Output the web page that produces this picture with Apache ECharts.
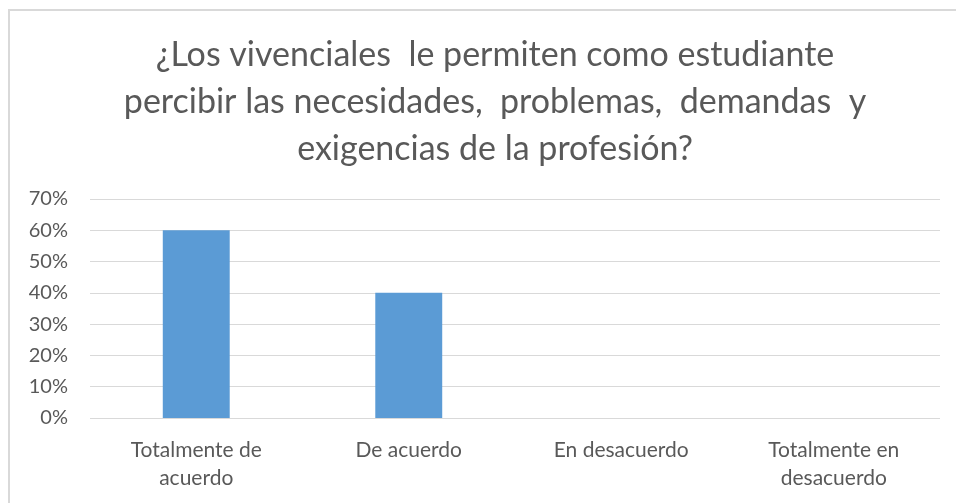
<!DOCTYPE html>
<html>
<head>
<meta charset="utf-8">
<script src="https://cdn.jsdelivr.net/npm/echarts@6/dist/echarts.min.js"></script>
<style>
    html, body { margin: 0; padding: 0; background: #fff; overflow: hidden; }
    #chart { position: absolute; left: 0; top: 0; width: 956px; height: 503px; }
    #frame { position: absolute; left: 8px; top: 9px; right: 0; bottom: 0; border-left: 2px solid #d9d9d9; border-top: 2px solid #d9d9d9; pointer-events: none; }
</style>
</head>
<body>
<div id="chart"></div>
<div id="frame"></div>
<script>
    var categories = ["Totalmente de\nacuerdo", "De acuerdo", "En desacuerdo", "Totalmente en\ndesacuerdo"];
    var values = [0.6, 0.4, 0, 0];
    var titleText = "¿Los vivenciales  le permiten como estudiante\npercibir las necesidades,  problemas,  demandas  y\nexigencias de la profesión?";

    var fontFamily = "Lato, 'Open Sans', sans-serif";
    var chart = echarts.init(document.getElementById("chart"));

    var option = {
        animation: false,
        textStyle: { fontFamily: fontFamily },
        title: {
            text: titleText,
            left: 490,
            textAlign: "center",
            top: 27,
            textStyle: {
                fontSize: 34,
                fontWeight: "normal",
                color: "#595959",
                lineHeight: 47,
                fontFamily: fontFamily
            }
        },
        grid: {
            left: 90,
            right: 16,
            top: 199,
            bottom: 85
        },
        xAxis: {
            type: "category",
            data: categories,
            axisLine: { show: false },
            axisTick: { show: false },
            axisLabel: {
                color: "#595959",
                fontSize: 21,
                lineHeight: 28,
                margin: 18,
                fontFamily: fontFamily
            }
        },
        yAxis: {
            type: "value",
            min: 0,
            max: 0.7,
            interval: 0.1,
            axisLine: { show: false },
            axisTick: { show: false },
            splitLine: { lineStyle: { color: "#d9d9d9", width: 1 } },
            axisLabel: {
                color: "#595959",
                fontSize: 20,
                margin: 22,
                fontFamily: fontFamily,
                formatter: function (v) {
                    return Math.round(v * 100) + "%";
                }
            }
        },
        series: [{
            type: "bar",
            data: values,
            barWidth: "31.5%",
            itemStyle: { color: "#5b9bd5" }
        }]
    };

    chart.setOption(option);
</script>
</body>
</html>
